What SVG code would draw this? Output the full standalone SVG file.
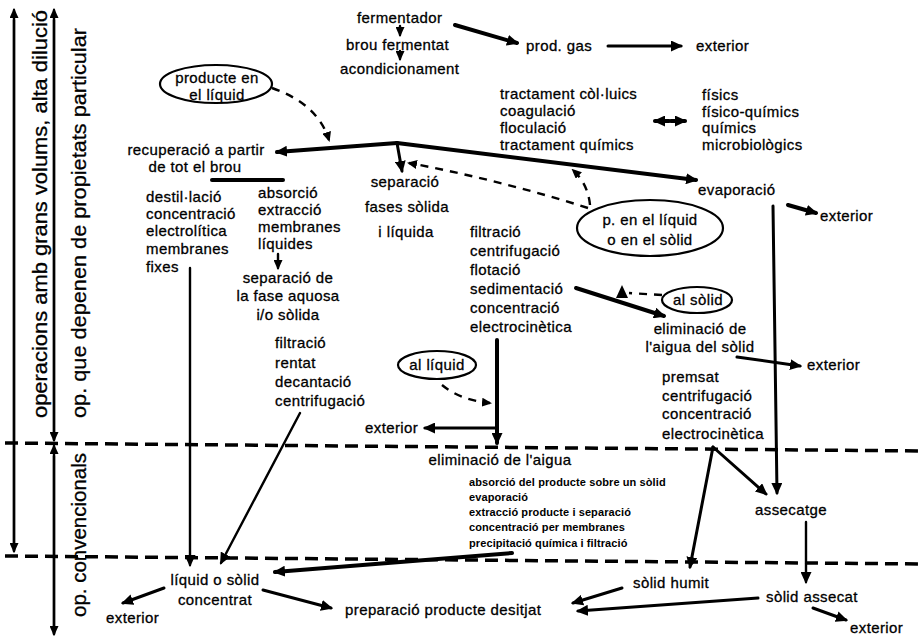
<svg xmlns="http://www.w3.org/2000/svg" width="923" height="638" viewBox="0 0 923 638">
  <style>
    text { font-family: "Liberation Sans", Arial, sans-serif; fill: #000; }
    .t { font-size: 15px; letter-spacing: 0.4px; stroke: #000; stroke-width: 0.3px; }
    .c { text-anchor: middle; }
    .s { font-size: 11px; font-weight: bold; letter-spacing: 0.1px; }
    .side { font-size: 21px; stroke: #000; stroke-width: 0.3px; }
    .ln { fill: none; stroke: #000; stroke-width: 3; stroke-linecap: round; }
    .thin { stroke-width: 2.4; }
    .thick { stroke-width: 4; }
    .dash { fill: none; stroke: #000; stroke-width: 2.4; stroke-dasharray: 8 7; }
    .zone { fill: none; stroke: #000; stroke-width: 3.5; stroke-dasharray: 13 7; }
    .ell { fill: #fff; stroke: #000; stroke-width: 2.2; }
  </style>
  <defs>
    <marker id="ah" markerUnits="userSpaceOnUse" markerWidth="12" markerHeight="11" viewBox="0 0 12 11" refX="10" refY="5.5" orient="auto">
      <path d="M0,0 L12,5.5 L0,11 z" fill="#000"/>
    </marker>
    <marker id="ahs" markerUnits="userSpaceOnUse" markerWidth="10" markerHeight="9" viewBox="0 0 10 9" refX="8" refY="4.5" orient="auto">
      <path d="M0,0 L10,4.5 L0,9 z" fill="#000"/>
    </marker>
  </defs>
  <rect width="923" height="638" fill="#fff"/>

  <!-- zone boundaries -->
  <g id="zones">
    <path class="zone" d="M5,443 L923,451"/>
    <path class="zone" d="M5,556 L923,564"/>
  </g>

  <!-- side scales with rotated labels -->
  <g id="scale-volums">
    <path class="ln thin" d="M14,551 L14,10" marker-end="url(#ahs)"/>
    <path class="ln thin" d="M14,20 L14,551" marker-end="url(#ahs)"/>
    <text class="side" transform="translate(47,418) rotate(-90)" textLength="408" lengthAdjust="spacingAndGlyphs">operacions amb grans volums, alta dilució</text>
  </g>
  <g id="scale-propietats">
    <path class="ln thin" d="M54,440 L54,10" marker-end="url(#ahs)"/>
    <path class="ln thin" d="M54,20 L54,440" marker-end="url(#ahs)"/>
    <text class="side" transform="translate(86,418) rotate(-90)" textLength="390" lengthAdjust="spacingAndGlyphs">op. que depenen de propietats particular</text>
  </g>
  <g id="scale-convencionals">
    <path class="ln thin" d="M54,634 L54,446" marker-end="url(#ahs)"/>
    <path class="ln thin" d="M54,456 L54,634" marker-end="url(#ahs)"/>
    <text class="side" transform="translate(86,617) rotate(-90)" textLength="164" lengthAdjust="spacingAndGlyphs">op. convencionals</text>
  </g>

  <!-- connectors -->
  <g id="connectors">
    <path class="ln thin" d="M400,26 L400,35" marker-end="url(#ahs)"/>
    <path class="ln thin" d="M400,51 L400,59" marker-end="url(#ahs)"/>
    <path class="ln thick" d="M455,25 L517,43" marker-end="url(#ah)"/>
    <path class="ln" d="M608,46 L681,46" marker-end="url(#ah)"/>
    <path class="dash" d="M272,88 Q318,104 329,140" marker-end="url(#ahs)"/>
    <path class="ln thick" d="M397,143 L277,152" marker-end="url(#ah)"/>
    <path class="ln thick" d="M397,143 L696,180" marker-end="url(#ah)"/>
    <path class="ln" d="M397,143 L402,171" marker-end="url(#ah)"/>
    <path class="dash" d="M588,208 Q500,180 409,163" marker-end="url(#ahs)"/>
    <path class="dash" d="M590,205 Q588,184 573,170" marker-end="url(#ahs)"/>
    <path class="ln thick" d="M669,121 L655,121" marker-end="url(#ah)"/>
    <path class="ln thick" d="M671,121 L685,121" marker-end="url(#ah)"/>
    <path class="ln thick" d="M212,180 L283,180"/>
    <path class="ln thick" d="M788,205 L816,213" marker-end="url(#ah)"/>
    <path class="ln thin" d="M278,254 L278,268" marker-end="url(#ahs)"/>
    <path class="ln thin" d="M190,268 L190,565" marker-end="url(#ah)"/>
    <path class="ln thin" d="M300,413 L221,563" marker-end="url(#ah)"/>
    <path class="ln thick" d="M576,288 L664,316" marker-end="url(#ah)"/>
    <path class="dash" d="M662,295 L629,293"/>
    <path d="M616,298 L622,285 L628,298 z" fill="#000"/>
    <path class="ln" d="M737,357 L800,366" marker-end="url(#ah)"/>
    <path class="ln" d="M773,206 L777,493" marker-end="url(#ah)"/>
    <path class="ln thick" d="M497,340 L497,443" marker-end="url(#ah)"/>
    <path class="ln" d="M495,428 L425,428" marker-end="url(#ah)"/>
    <path class="dash" d="M442,385 Q460,400 490,403" marker-end="url(#ahs)"/>
    <path class="ln" d="M713,447 L690,567" marker-end="url(#ah)"/>
    <path class="ln" d="M713,447 L766,494" marker-end="url(#ah)"/>
    <path class="ln thin" d="M806,522 L806,582" marker-end="url(#ah)"/>
    <path class="ln thick" d="M512,553 L275,572" marker-end="url(#ah)"/>
    <path class="ln" d="M164,588 L123,603" marker-end="url(#ah)"/>
    <path class="ln" d="M263,590 L331,608" marker-end="url(#ah)"/>
    <path class="ln" d="M622,588 L573,603" marker-end="url(#ah)"/>
    <path class="ln" d="M758,598 L578,611" marker-end="url(#ah)"/>
    <path class="ln" d="M813,608 L846,620" marker-end="url(#ah)"/>
  </g>

  <!-- nodes -->
  <g id="fermentador"><text class="t" x="357" y="23">fermentador</text></g>
  <g id="brou-fermentat"><text class="t" x="346" y="50">brou fermentat</text></g>
  <g id="acondicionament"><text class="t" x="340" y="74">acondicionament</text></g>
  <g id="prod-gas"><text class="t" x="526" y="51">prod. gas</text></g>
  <g id="exterior-gas"><text class="t" x="696" y="51">exterior</text></g>

  <g id="producte-en-el-liquid">
    <ellipse class="ell" cx="216" cy="84" rx="56" ry="19"/>
    <text class="t c" x="217" y="83">producte en</text>
    <text class="t c" x="217" y="100">el líquid</text>
  </g>

  <g id="tractaments">
    <text class="t" x="500" y="99">tractament còl·luics</text>
    <text class="t" x="500" y="116">coagulació</text>
    <text class="t" x="500" y="133">floculació</text>
    <text class="t" x="500" y="150">tractament químics</text>
  </g>
  <g id="tipus">
    <text class="t" x="702" y="100">físics</text>
    <text class="t" x="702" y="117">físico-químics</text>
    <text class="t" x="702" y="133">químics</text>
    <text class="t" x="702" y="150">microbiològics</text>
  </g>

  <g id="recuperacio">
    <text class="t c" x="196" y="155">recuperació a partir</text>
    <text class="t c" x="195" y="172">de tot el brou</text>
  </g>
  <g id="destillacio">
    <text class="t" x="146" y="202">destil·lació</text>
    <text class="t" x="146" y="219">concentració</text>
    <text class="t" x="146" y="236">electrolítica</text>
    <text class="t" x="146" y="254">membranes</text>
    <text class="t" x="146" y="272">fixes</text>
  </g>
  <g id="absorcio">
    <text class="t" x="258" y="198">absorció</text>
    <text class="t" x="258" y="215">extracció</text>
    <text class="t" x="258" y="232">membranes</text>
    <text class="t" x="258" y="249">líquides</text>
  </g>
  <g id="separacio-fase-aquosa">
    <text class="t c" x="288" y="283">separació de</text>
    <text class="t c" x="288" y="301">la fase aquosa</text>
    <text class="t c" x="288" y="320">i/o sòlida</text>
  </g>
  <g id="filtracio-rentat">
    <text class="t" x="275" y="348">filtració</text>
    <text class="t" x="275" y="368">rentat</text>
    <text class="t" x="275" y="387">decantació</text>
    <text class="t" x="275" y="406">centrifugació</text>
  </g>

  <g id="separacio-fases">
    <text class="t c" x="405" y="187">separació</text>
    <text class="t c" x="407" y="212">fases sòlida</text>
    <text class="t c" x="406" y="237">i líquida</text>
  </g>
  <g id="filtracio-sedimentacio">
    <text class="t" x="470" y="237">filtració</text>
    <text class="t" x="470" y="256">centrifugació</text>
    <text class="t" x="470" y="275">flotació</text>
    <text class="t" x="470" y="294">sedimentació</text>
    <text class="t" x="470" y="313">concentració</text>
    <text class="t" x="470" y="332">electrocinètica</text>
  </g>

  <g id="evaporacio"><text class="t" x="698" y="195">evaporació</text></g>
  <g id="exterior-evaporacio"><text class="t" x="820" y="221">exterior</text></g>

  <g id="p-liquid-solid">
    <ellipse class="ell" cx="650" cy="228" rx="73" ry="28"/>
    <text class="t c" x="650" y="225">p. en el líquid</text>
    <text class="t c" x="650" y="245">o en el sòlid</text>
  </g>

  <g id="al-solid">
    <ellipse class="ell" cx="697" cy="300" rx="35" ry="13"/>
    <text class="t c" x="698" y="305">al sòlid</text>
  </g>
  <g id="eliminacio-aigua-solid">
    <text class="t c" x="700" y="334">eliminació de</text>
    <text class="t c" x="700" y="352">l'aigua del sòlid</text>
  </g>
  <g id="exterior-solid"><text class="t" x="807" y="370">exterior</text></g>
  <g id="premsat">
    <text class="t" x="662" y="382">premsat</text>
    <text class="t" x="662" y="401">centrifugació</text>
    <text class="t" x="662" y="419">concentració</text>
    <text class="t" x="662" y="439">electrocinètica</text>
  </g>

  <g id="al-liquid">
    <ellipse class="ell" cx="437" cy="365" rx="39" ry="14"/>
    <text class="t c" x="437" y="370">al líquid</text>
  </g>
  <g id="exterior-liquid"><text class="t" x="365" y="433">exterior</text></g>

  <g id="eliminacio-aigua"><text class="t c" x="500" y="465">eliminació de l'aigua</text></g>
  <g id="metodes-eliminacio">
    <text class="s" x="469" y="486">absorció del producte sobre un sòlid</text>
    <text class="s" x="469" y="501">evaporació</text>
    <text class="s" x="469" y="516">extracció producte i separació</text>
    <text class="s" x="469" y="531">concentració per membranes</text>
    <text class="s" x="469" y="547">precipitació química i filtració</text>
  </g>

  <g id="assecatge"><text class="t" x="755" y="515">assecatge</text></g>
  <g id="liquid-solid-concentrat">
    <text class="t c" x="215" y="585">líquid o sòlid</text>
    <text class="t c" x="215" y="605">concentrat</text>
  </g>
  <g id="exterior-concentrat"><text class="t" x="106" y="623">exterior</text></g>
  <g id="solid-humit"><text class="t" x="633" y="588">sòlid humit</text></g>
  <g id="solid-assecat"><text class="t" x="766" y="602">sòlid assecat</text></g>
  <g id="preparacio"><text class="t" x="345" y="615">preparació producte desitjat</text></g>
  <g id="exterior-assecat"><text class="t" x="850" y="633">exterior</text></g>
</svg>
